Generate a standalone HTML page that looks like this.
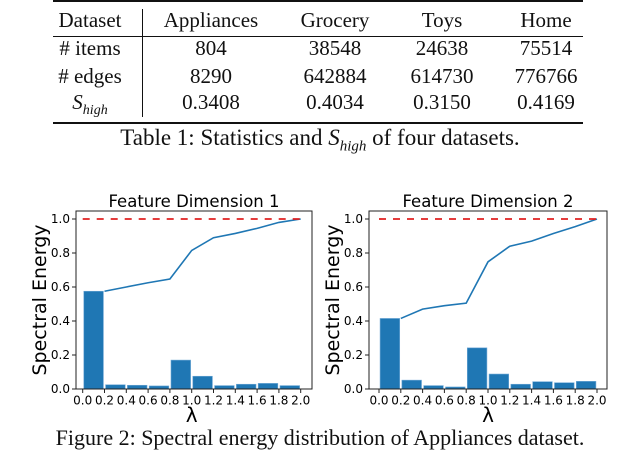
<!DOCTYPE html>
<html><head><meta charset="utf-8">
<style>
body{margin:0;width:640px;height:452px;background:#fff;overflow:hidden;position:relative;font-family:"Liberation Serif",serif;}
.t{position:absolute;font-size:21px;color:#111;white-space:nowrap;transform:translateX(-50%);line-height:1;}
.rule{position:absolute;background:#111;}
</style></head><body>
<div>
<div class="rule" style="left:53px;width:530px;top:0;height:2px"></div>
<div class="rule" style="left:53px;width:530px;top:36px;height:1px"></div>
<div class="rule" style="left:53px;width:530px;top:122px;height:2px"></div>
<div class="rule" style="left:142px;width:1px;top:9px;height:108px"></div>
<div id="cells"></div>
<div class="t" style="left:320px;top:126px;font-size:23px">Table 1: Statistics and <i>S<sub style="font-size:15px">high</sub></i> of four datasets.</div>
</div>
<svg id="ch" width="640" height="452" style="position:absolute;left:0;top:0"></svg>
<div class="t" style="left:320px;top:427px;font-size:22px">Figure 2: Spectral energy distribution of Appliances dataset.</div>
<script>
const rowLabels=["Dataset","# items","# edges","S_high"];
const colNames=["Appliances","Grocery","Toys","Home"];
const items=["804","38548","24638","75514"];
const edges=["8290","642884","614730","776766"];
const shigh=["0.3408","0.4034","0.3150","0.4169"];
const colX=[90,211,335,442,546];
const rowY=[10,38,66,92];
const cells=document.getElementById('cells');
function cell(txt,x,y,name,html){const d=document.createElement('div');d.className='t';d.style.left=x+'px';d.style.top=y+'px';
if(html)d.innerHTML=txt;else d.textContent=txt;


cells.appendChild(d);}
cell("Dataset",colX[0],rowY[0],'row-label');
cell("# items",colX[0],rowY[1],'row-label');
cell("# edges",colX[0],rowY[2],'row-label');
cell('<i>S<sub style="font-size:14px">high</sub></i>',colX[0],rowY[3],'row-label',true);
[colNames,items,edges,shigh].forEach((r,ri)=>r.forEach((v,ci)=>cell(v,colX[ci+1],rowY[ri],'table-cell')));

const lambdaTicks=["0.0","0.2","0.4","0.6","0.8","1.0","1.2","1.4","1.6","1.8","2.0"];
const yTicks=[0,0.2,0.4,0.6,0.8,1.0];
const bars1=[0.575,0.025,0.022,0.018,0.17,0.075,0.02,0.028,0.033,0.02];
const cum1=[0.575,0.60,0.625,0.647,0.815,0.89,0.915,0.945,0.98,1.0];
const bars2=[0.415,0.052,0.02,0.012,0.242,0.088,0.028,0.043,0.037,0.045];
const cum2=[0.415,0.47,0.49,0.505,0.748,0.84,0.87,0.915,0.955,1.0];
const titles=["Feature Dimension 1","Feature Dimension 2"];
const svg=document.getElementById('ch');const NS='http://www.w3.org/2000/svg';
function el(t,a,p){const e=document.createElementNS(NS,t);for(const k in a)e.setAttribute(k,a[k]);(p||svg).appendChild(e);return e;}
function draw(ox,fl,fr,bars,cum,title){
 const x=v=>ox+v*109, y=v=>389-v*170;
 const g=el('g',{});
 
 
 bars.forEach((b,i)=>{const r=el('rect',{x:x(i*0.2+0.01),y:y(b),width:0.18*109,height:y(0)-y(b),fill:'#1f77b4',stroke:'#6fa8d6','stroke-width':0.6},g);
  
  });
 const pts=cum.map((c,i)=>x(0.2+i*0.2)+','+y(c)).join(' ');
 const l=el('polyline',{points:pts,fill:'none',stroke:'#1f77b4','stroke-width':1.6},g);
 
 
 const d=el('line',{x1:x(0),x2:x(2),y1:y(1),y2:y(1),stroke:'#e02020','stroke-width':1.8,'stroke-dasharray':'7,7'},g);
 
 
 el('rect',{x:fl,y:211,width:fr-fl,height:178,fill:'none',stroke:'#222','stroke-width':1},g);
 yTicks.forEach(v=>{el('line',{x1:fl-4,x2:fl,y1:y(v),y2:y(v),stroke:'#222'},g);
  const t=el('text',{x:fl-6,y:y(v)+4,'text-anchor':'end','font-size':12,'font-family':'DejaVu Sans'},g);t.textContent=v.toFixed(1);
  
  });
 lambdaTicks.forEach((s,i)=>{const v=i*0.2;el('line',{x1:x(v),x2:x(v),y1:389,y2:393,stroke:'#222'},g);
  const t=el('text',{x:x(v),y:404.5,'text-anchor':'middle','font-size':12,'font-family':'DejaVu Sans'},g);t.textContent=s;
  
  });
 const tt=el('text',{x:(fl+fr)/2,y:207,'text-anchor':'middle','font-size':16.5,'font-family':'DejaVu Sans'},g);tt.textContent=title;
 
 
 const xl=el('text',{x:(x(0)+x(2))/2,y:422,'text-anchor':'middle','font-size':20,'font-family':'DejaVu Sans'},g);xl.textContent='λ';
 
 
 const yl=el('text',{x:0,y:0,'text-anchor':'middle','font-size':19,'font-family':'DejaVu Sans',transform:`translate(${fl-30},300) rotate(-90)`},g);yl.textContent='Spectral Energy';
 
 
}
draw(82.7,76,312,bars1,cum1,titles[0]);
draw(379,369,607,bars2,cum2,titles[1]);
</script>
</body></html>
